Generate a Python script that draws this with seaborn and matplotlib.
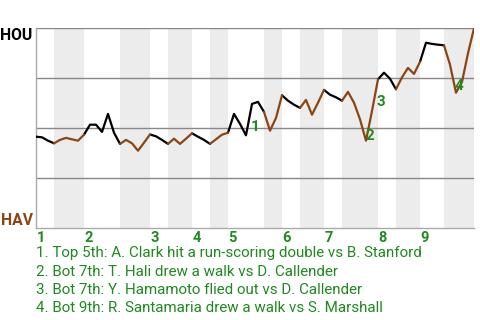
import numpy as np
import pandas as pd
import matplotlib
matplotlib.use("Agg")
import matplotlib.pyplot as plt
import seaborn as sns

# ---- data ----
# plate appearances per half-inning (top1, bot1, top2, bot2, ...)
half_inning_pas = [3, 5, 6, 5, 3, 4, 3, 3, 6, 3, 3, 4, 3, 6, 3, 4, 4, 5]
# home-team win probability after each plate appearance (index 0 = start)
win_prob = [0.458, 0.455, 0.438, 0.425, 0.442, 0.452, 0.445, 0.438, 0.468, 0.518,
            0.518, 0.482, 0.572, 0.478, 0.422, 0.442, 0.425, 0.388, 0.428, 0.469,
            0.460, 0.442, 0.422, 0.448, 0.422, 0.448, 0.475, 0.458, 0.442, 0.422,
            0.445, 0.468, 0.478, 0.572, 0.522, 0.465, 0.622, 0.632, 0.582, 0.488,
            0.552, 0.665, 0.638, 0.618, 0.602, 0.642, 0.568, 0.628, 0.692, 0.668,
            0.655, 0.638, 0.682, 0.628, 0.545, 0.438, 0.587, 0.745, 0.778, 0.748,
            0.695, 0.755, 0.802, 0.772, 0.832, 0.928, 0.922, 0.918, 0.915, 0.818,
            0.678, 0.732, 0.875, 1.000]
inning_labels = ["1", "2", "3", "4", "5", "6", "7", "8", "9"]
top_team = "HOU"
bottom_team = "HAV"
event_numbers = ["1", "2", "3", "4"]
event_pa = [36.5, 55.6, 57.5, 70.5]
event_label_y = [0.508, 0.462, 0.633, 0.711]
event_texts = [
    "1. Top 5th: A. Clark hit a run-scoring double vs B. Stanford",
    "2. Bot 7th: T. Hali drew a walk vs D. Callender",
    "3. Bot 7th: Y. Hamamoto flied out vs D. Callender",
    "4. Bot 9th: R. Santamaria drew a walk vs S. Marshall",
]

# ---- styling ----
BROWN = "#8B4513"
GREEN = "#1f8a1f"
BAND = "#ececec"
GRID = "#888888"

sns.set_theme(style="white")
plt.rcParams["font.family"] = ["Roboto", "DejaVu Sans"]

fig = plt.figure(figsize=(4.8, 3.2), dpi=100)
ax = fig.add_axes([36 / 480, 1 - 228.3 / 320, 438 / 480, 200 / 320])

# half-inning boundaries
edges = np.concatenate([[0], np.cumsum(half_inning_pas)])
n = int(edges[-1])

# shaded bottom halves
for k in range(len(half_inning_pas)):
    if k % 2 == 1:
        ax.axvspan(edges[k], edges[k + 1], color=BAND, lw=0, zorder=0)

# gridlines
for yv in [0.25, 0.5, 0.75, 1.0]:
    ax.axhline(yv, color=GRID, lw=1, zorder=1)

# build segment table
rows = []
for k in range(len(half_inning_pas)):
    side = "top" if k % 2 == 0 else "bot"
    for i in range(int(edges[k]), int(edges[k + 1]) + 1):
        rows.append({"pa": i, "wp": win_prob[i], "seg": k, "side": side})
df = pd.DataFrame(rows)

sns.lineplot(data=df, x="pa", y="wp", units="seg", estimator=None, hue="side",
             palette={"top": "black", "bot": BROWN}, lw=1.6, legend=False,
             ax=ax, zorder=3)

ax.set_xlim(0, n)
ax.set_ylim(0, 1)
ax.set_xticks([])
ax.set_yticks([])
ax.set_xlabel("")
ax.set_ylabel("")
for s in ["top", "right"]:
    ax.spines[s].set_visible(False)
ax.spines["left"].set_color("#aaaaaa")
ax.spines["bottom"].set_color("#aaaaaa")
ax.spines["left"].set_linewidth(1)
ax.spines["bottom"].set_linewidth(1)

# team labels
fig.text(32.5 / 480, 1 - 35 / 320, top_team, ha="right", va="center",
         fontsize=11.3, fontweight="bold", color="black")
fig.text(32.5 / 480, 1 - 220.5 / 320, bottom_team, ha="right", va="center",
         fontsize=11.3, fontweight="bold", color=BROWN)

# inning labels at start of each inning
for j, lab in enumerate(inning_labels):
    ax.text(edges[2 * j] + 0.1, -0.05, lab, ha="left", va="center",
            fontsize=10.5, fontweight="bold", color=GREEN, clip_on=False)

# event markers
for num, x, y in zip(event_numbers, event_pa, event_label_y):
    ax.text(x, y, num, ha="center", va="center", fontsize=11,
            fontweight="bold", color=GREEN, zorder=5)

# event descriptions
for j, t in enumerate(event_texts):
    fig.text(36 / 480, 1 - (253.5 + 18 * j) / 320, t, ha="left", va="center",
             fontsize=10.9, color=GREEN)

fig.savefig("out.png", dpi=100)
